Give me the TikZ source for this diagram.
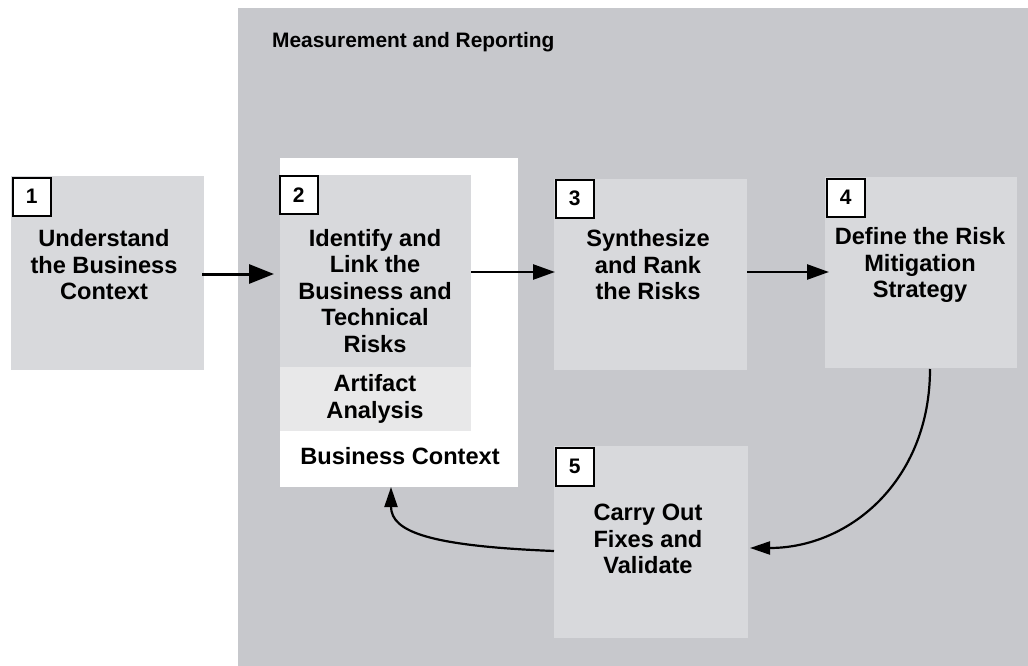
\documentclass[tikz,border=0pt]{standalone}
\usepackage{fontspec}
\setmainfont{Liberation Sans}
\usetikzlibrary{arrows.meta}
\definecolor{bggray}{RGB}{199,200,204}
\definecolor{boxgray}{RGB}{216,217,220}
\definecolor{artgray}{RGB}{232,232,233}
\tikzset{
 region/.style={inner sep=0pt, outer sep=0pt, draw=none, anchor=north west},
 stepbox/.style={region, fill=boxgray},
 numbox/.style={draw=black, line width=1.5pt, fill=white, minimum width=38pt, minimum height=38pt, inner sep=0pt, font=\fontsize{21}{21}\selectfont\bfseries, anchor=north west},
 lbl/.style={align=center, font=\fontsize{23.6}{26.5}\selectfont\bfseries, inner sep=0pt},
 arr/.style={line width=2.6pt, -{Triangle[length=22pt,width=15pt]}},
 bigarr/.style={line width=3pt, -{Triangle[length=25pt,width=19pt]}},
 carr/.style={line width=2.2pt, -{Triangle[length=20pt,width=13pt]}},
}
\begin{document}
\begin{tikzpicture}[x=1pt,y=-1pt]
\useasboundingbox (0,0) rectangle (1028,666);
\fill[white] (0,0) rectangle (1028,666);
% background region
\node[region, fill=bggray, minimum width=790pt, minimum height=658pt] (bg) at (238,8) {};
\node[anchor=west, inner sep=0pt, font=\fontsize{20.9}{20.9}\selectfont\bfseries] (title) at (272,42) {Measurement and Reporting};
% step 1
\node[stepbox, minimum width=193pt, minimum height=194pt] (b1) at (11,176) {};
% white container of step 2
\node[region, fill=white, minimum width=238pt, minimum height=329pt] (w) at (280,158) {};
\node[stepbox, minimum width=191pt, minimum height=192pt] (b2) at (280,175) {};
\node[region, fill=artgray, minimum width=191pt, minimum height=64pt] (art) at (280,367) {};
% step 3,4,5
\node[stepbox, minimum width=193pt, minimum height=191pt] (b3) at (554,179) {};
\node[stepbox, minimum width=192pt, minimum height=191pt] (b4) at (825,177) {};
\node[stepbox, minimum width=194pt, minimum height=192pt] (b5) at (554,446) {};
% number boxes
\node[numbox] (n1) at (12,177) {1};
\node[numbox] (n2) at (279,175) {2};
\node[numbox] (n3) at (555,179) {3};
\node[numbox] (n4) at (826,178) {4};
\node[numbox] (n5) at (555,447) {5};
% labels
\node[lbl] (t1) at (104,265) {Understand\\the Business\\Context};
\node[lbl] (t2) at (375,291) {Identify and\\Link the\\Business and\\Technical\\Risks};
\node[lbl] (t3) at (648,265) {Synthesize\\and Rank\\the Risks};
\node[lbl] (t4) at (920,265) {Define the Risk\\Mitigation\\Strategy};
\node[lbl] (t5) at (648,539) {Carry Out\\Fixes and\\Validate};
\node[lbl] (ta) at (375,399) {Artifact\\Analysis};
\node[lbl] (tb) at (400,456) {Business Context};
% arrows
\coordinate (a1e) at (274,274);
\coordinate (a3e) at (829,272);
\coordinate (c4s) at (930,369);
\coordinate (c5e) at (750,548);
\coordinate (c5s) at (554,551);
\coordinate (c2e) at (391,487);
\draw[bigarr] ([xshift=-2pt]b1.east |- a1e) -- (a1e);
\draw[arr] (b2.east |- 0,272) -- ([xshift=1pt]b3.west |- 0,272);
\draw[arr] (b3.east |- a3e) -- (a3e);
\draw[carr] (c4s) .. controls (930,480) and (850,548) .. (c5e);
\draw[carr] (c5s) .. controls (430,546) and (391,532) .. (c2e);
\end{tikzpicture}
\end{document}
